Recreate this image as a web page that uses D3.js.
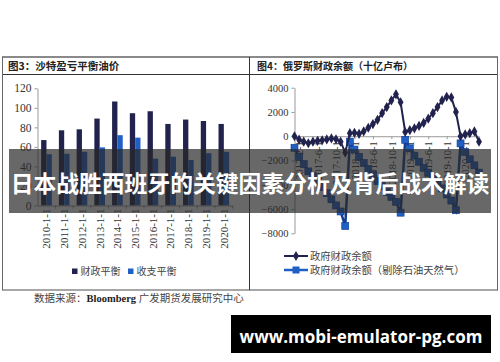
<!DOCTYPE html>
<html><head><meta charset="utf-8">
<script src="https://cdn.jsdelivr.net/npm/d3@7/dist/d3.min.js"></script>
<style>body{margin:0;background:#fff;}svg{display:block;}</style>
</head><body>
<svg id="c" width="500" height="362"></svg>
<script>
// ---------- data ----------
const years = ["2010-1-1","2011-1-1","2012-1-1","2013-1-1","2014-1-1","2015-1-1","2016-1-1","2017-1-1","2018-1-1","2019-1-1","2020-1-1"];
const fiscalBreakeven = [67,77,78,89,106.5,94.5,96.5,83.5,88,86.5,83.5];
const externalBreakeven = [52.5,53,55,59.5,72,69.5,48,50,46.5,53.5,55];
const leftTicks = [0,20,40,60,80,100,120];
const leftLegend = ["财政平衡","收支平衡"];

const months = ["2017-1-1","2017-2-1","2017-3-1","2017-4-1","2017-5-1","2017-6-1","2017-7-1","2017-8-1","2017-9-1","2017-10-1","2017-11-1","2017-12-1",
"2018-1-1","2018-2-1","2018-3-1","2018-4-1","2018-5-1","2018-6-1","2018-7-1","2018-8-1","2018-9-1","2018-10-1","2018-11-1","2018-12-1",
"2019-1-1","2019-2-1","2019-3-1","2019-4-1","2019-5-1","2019-6-1","2019-7-1","2019-8-1","2019-9-1","2019-10-1","2019-11-1","2019-12-1",
"2020-1-1","2020-2-1","2020-3-1","2020-4-1","2020-5-1"];
const balance = [0,-280,-450,-580,-450,-380,-330,-260,-180,-250,-450,-1350,
250,280,200,400,700,1000,1350,1900,2400,2950,3450,2800,
350,500,650,850,1100,1450,1900,2400,2950,3250,3200,2000,
0,150,250,400,-450];
const balanceExOil = [-950,-1700,-2300,-2900,-3300,-3800,-4200,-4700,-5200,-5700,-6200,-7400,
-450,-1100,-1700,-2200,-2700,-3200,-3700,-4100,-4600,-5000,-5400,-6300,
-300,-1000,-1600,-2100,-2600,-3000,-3400,-3800,-4300,-4800,-5300,-6100,
-590,-1300,-1900,-2400,-3000];
const rightTicks = [-8000,-6000,-4000,-2000,0,2000,4000];
const rightTickLabels = ["2017-2-1","2017-6-1","2017-10-1","2018-2-1","2018-6-1","2018-10-1","2019-2-1","2019-6-1","2019-10-1","2020-2-1"];
const rightLegend = ["政府财政余额","政府财政余额（剔除石油天然气）"];

const titleLeft = "图3：沙特盈亏平衡油价";
const titleRight = "图4：俄罗斯财政余额（十亿卢布）";
const banner = "日本战胜西班牙的关键因素分析及背后战术解读";
const watermark = "www.mobi-emulator-pg.com";

// ---------- drawing ----------
const svg = d3.select("#c");
const cjk = "'Noto Sans CJK SC','Noto Sans',sans-serif";
const serif = "'Liberation Serif','Times New Roman',serif";
const DARK = "#22224e", BLUE = "#1f5fc6", LINEBLUE = "#123c8e";

// frame
svg.append("line").attr("x1",2).attr("x2",498).attr("y1",57).attr("y2",57).attr("stroke","#8a8a8a").attr("stroke-width",2);
svg.append("line").attr("x1",2).attr("x2",498).attr("y1",74.5).attr("y2",74.5).attr("stroke","#333").attr("stroke-width",1);
svg.append("line").attr("x1",2).attr("x2",498).attr("y1",290).attr("y2",290).attr("stroke","#8a8a8a").attr("stroke-width",1.5);
svg.append("line").attr("x1",249.5).attr("x2",249.5).attr("y1",57).attr("y2",290).attr("stroke","#333").attr("stroke-width",1);
svg.append("line").attr("x1",2.5).attr("x2",2.5).attr("y1",57).attr("y2",290).attr("stroke","#666").attr("stroke-width",1);
svg.append("line").attr("x1",497.5).attr("x2",497.5).attr("y1",57).attr("y2",290).attr("stroke","#666").attr("stroke-width",1);

svg.append("text").attr("x",8).attr("y",69.5).attr("font-family",cjk).attr("font-size",10.5).attr("font-weight","bold").attr("fill","#222").text(titleLeft);
svg.append("text").attr("x",257).attr("y",69.5).attr("font-family",cjk).attr("font-size",10).attr("font-weight","bold").attr("fill","#222").text(titleRight);

// ---- left chart ----
const xL = d3.scaleBand().domain(years).range([37.6, 232.7]);
const yL = d3.scaleLinear().domain([0,120]).range([205.5, 88.3]);
const bw = xL.bandwidth()*0.3;

const gLy = svg.append("g").attr("transform","translate(37.5,0)")
  .call(d3.axisLeft(yL).tickValues(leftTicks).tickSize(3).tickSizeOuter(0));
gLy.select(".domain").attr("stroke","#999");
gLy.selectAll(".tick line").attr("stroke","#999");
gLy.selectAll("text").attr("font-family",serif).attr("font-size",11.5).attr("fill","#333");

svg.append("g").selectAll("rect.f").data(years).join("rect")
  .attr("x",(d)=>xL(d)+xL.bandwidth()/2-bw).attr("width",bw)
  .attr("y",(d,i)=>yL(fiscalBreakeven[i])).attr("height",(d,i)=>yL(0)-yL(fiscalBreakeven[i]))
  .attr("fill",DARK);
svg.append("g").selectAll("rect.e").data(years).join("rect")
  .attr("x",(d)=>xL(d)+xL.bandwidth()/2).attr("width",bw)
  .attr("y",(d,i)=>yL(externalBreakeven[i])).attr("height",(d,i)=>yL(0)-yL(externalBreakeven[i]))
  .attr("fill",BLUE);

const gLx = svg.append("g").attr("transform",`translate(0,${yL(0)})`)
  .call(d3.axisBottom(xL).tickSize(0).tickSizeOuter(0));
gLx.select(".domain").attr("stroke","#999");
gLx.selectAll(".tick text").attr("font-family",serif).attr("font-size",11).attr("fill","#333")
  .attr("transform","rotate(-90)").attr("text-anchor","end").attr("dy","0.35em").attr("y",0).attr("x",-3);
svg.append("g").selectAll("line").data(years).join("line")
  .attr("x1",d=>xL(d)+xL.bandwidth()).attr("x2",d=>xL(d)+xL.bandwidth())
  .attr("y1",yL(0)).attr("y2",yL(0)+3).attr("stroke","#999");

// left legend
const lg = svg.append("g");
[DARK,BLUE].forEach((c,i)=>{
  const x0 = [72,128][i];
  lg.append("rect").attr("x",x0).attr("y",268.5).attr("width",5.5).attr("height",5.5).attr("fill",c);
  lg.append("text").attr("x",x0+8.5).attr("y",275).attr("font-family",cjk).attr("font-size",10).attr("fill","#444").text(leftLegend[i]);
});

// ---- right chart ----
const xR = d3.scalePoint().domain(months).range([294.5, 479]);
const yR = d3.scaleLinear().domain([-8000,4000]).range([233.3, 87.7]);

const gRy = svg.append("g").attr("transform","translate(294.5,0)")
  .call(d3.axisLeft(yR).tickValues(rightTicks).tickFormat(d3.format("d")).tickSize(3).tickSizeOuter(0));
gRy.select(".domain").attr("stroke","#999");
gRy.selectAll(".tick line").attr("stroke","#999");
gRy.selectAll("text").attr("font-family",serif).attr("font-size",10.5).attr("fill","#333");

const gRx = svg.append("g").attr("transform",`translate(0,${yR(0)})`)
  .call(d3.axisBottom(xR).tickValues(rightTickLabels).tickSize(3).tickSizeOuter(0));
gRx.select(".domain").attr("stroke","#999");
gRx.selectAll(".tick line").attr("stroke","#999");
gRx.selectAll(".tick text").attr("font-family",serif).attr("font-size",10.5).attr("fill","#333")
  .attr("transform","rotate(-90)").attr("text-anchor","end").attr("y",0).attr("x",-5).attr("dy","0.35em");

// non-oil series
const lineEx = d3.line().x((d,i)=>xR(months[i])).y(d=>yR(d));
svg.append("path").datum(balanceExOil).attr("d",lineEx).attr("fill","none").attr("stroke",LINEBLUE).attr("stroke-width",2.5);
svg.append("g").selectAll("rect").data(balanceExOil).join("rect")
  .attr("x",(d,i)=>xR(months[i])-3.5).attr("y",d=>yR(d)-3.5).attr("width",7).attr("height",7)
  .attr("fill",BLUE).attr("stroke","#0f3a8a").attr("stroke-width",0.6);

// main balance series
svg.append("path").datum(balance).attr("d",lineEx).attr("fill","none").attr("stroke",DARK).attr("stroke-width",2);
const diamond = d3.symbol().type(d3.symbolDiamond).size(30);
svg.append("g").selectAll("path").data(balance).join("path")
  .attr("transform",(d,i)=>`translate(${xR(months[i])},${yR(d)})`).attr("d",diamond).attr("fill",DARK);

// right legend
const rg = svg.append("g");
rg.append("line").attr("x1",284).attr("x2",308).attr("y1",256).attr("y2",256).attr("stroke",DARK).attr("stroke-width",2);
rg.append("path").attr("transform","translate(296,256)").attr("d",diamond).attr("fill",DARK);
rg.append("line").attr("x1",284).attr("x2",308).attr("y1",270).attr("y2",270).attr("stroke",BLUE).attr("stroke-width",2.5);
rg.append("rect").attr("x",292.5).attr("y",266.5).attr("width",7).attr("height",7).attr("fill",BLUE);
rg.append("text").attr("x",310).attr("y",259.5).attr("font-family",cjk).attr("font-size",10.3).attr("fill","#444").text(rightLegend[0]);
rg.append("text").attr("x",310).attr("y",273.5).attr("font-family",cjk).attr("font-size",10.3).attr("fill","#444").text(rightLegend[1]);

// source
const src = svg.append("text").attr("x",34).attr("y",302).attr("font-size",10.5).attr("fill","#444");
src.append("tspan").attr("font-family",cjk).text("数据来源：");
src.append("tspan").attr("font-family",serif).attr("font-weight","bold").attr("fill","#222").text("Bloomberg ");
src.append("tspan").attr("font-family",cjk).text("广发期货发展研究中心");

// banner overlay
svg.append("rect").attr("x",9).attr("y",149).attr("width",482).attr("height",64).attr("fill","rgba(40,40,40,0.7)");
svg.append("text").attr("x",250).attr("y",191.5).attr("text-anchor","middle").attr("font-family",cjk)
  .attr("font-weight","bold").attr("font-size",22.8).attr("fill","#fff").text(banner);

// watermark
svg.append("rect").attr("x",231).attr("y",315).attr("width",260).attr("height",38).attr("fill","#000");
svg.append("text").attr("x",361).attr("y",342.5).attr("text-anchor","middle").attr("font-family","'Open Sans',sans-serif")
  .attr("font-weight","bold").attr("font-size",17).attr("fill","#fff").text(watermark);
</script>
</body></html>
